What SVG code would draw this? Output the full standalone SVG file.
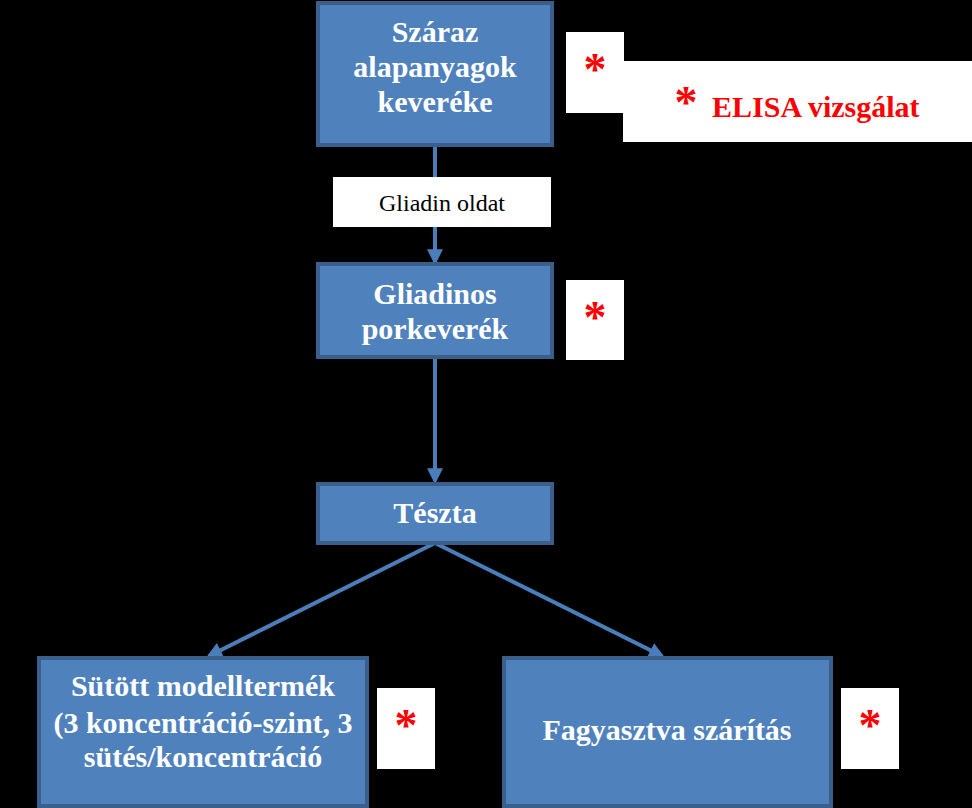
<svg xmlns="http://www.w3.org/2000/svg" width="972" height="808" viewBox="0 0 972 808">
<defs>
<style>
.node{fill:#4F81BD;stroke:#3A5F8B;stroke-width:4}
.nt{font-family:"Liberation Serif","Times New Roman",serif;font-weight:bold;font-size:30px;fill:#fff;text-anchor:middle}
.wb{fill:#fff}
.ast{font-family:"Liberation Serif","Times New Roman",serif;font-weight:bold;font-size:46px;fill:#f00;text-anchor:middle}
.conn{stroke:#4A7EBB;stroke-width:4;fill:none}
</style>
<marker id="ah" markerWidth="4" markerHeight="4" refX="3.2" refY="2" orient="auto" markerUnits="strokeWidth">
<path d="M0,0 L4,2 L0,4 Z" fill="#4A7EBB"/>
</marker>
</defs>
<rect width="972" height="808" fill="#000"/>
<g id="connectors">
<line class="conn" x1="435" y1="145" x2="435" y2="262" marker-end="url(#ah)"/>
<line class="conn" x1="435" y1="357" x2="435" y2="481" marker-end="url(#ah)"/>
<line class="conn" x1="435" y1="543" x2="209" y2="656" marker-end="url(#ah)"/>
<line class="conn" x1="435" y1="543" x2="662" y2="656" marker-end="url(#ah)"/>
</g>
<g id="label-gliadin-oldat">
<rect class="wb" x="333" y="177" width="218" height="50"/>
<text x="442" y="211" font-family="'Liberation Serif','Times New Roman',serif" font-size="24" fill="#000" text-anchor="middle">Gliadin oldat</text>
</g>
<g id="node-szaraz">
<rect class="node" x="318" y="3" width="234" height="142"/>
<text class="nt" x="435" y="42">Száraz</text>
<text class="nt" x="435" y="77">alapanyagok</text>
<text class="nt" x="435" y="112">keveréke</text>
</g>
<g id="legend">
<rect class="wb" x="566" y="32" width="58" height="81"/>
<rect class="wb" x="623" y="61" width="349" height="81"/>
<text class="ast" x="595" y="85">*</text>
<text class="ast" x="686" y="118">*</text>
<text x="712" y="117" font-family="'Liberation Serif','Times New Roman',serif" font-weight="bold" font-size="30" fill="#f00">ELISA vizsgálat</text>
</g>
<g id="node-gliadinos">
<rect class="node" x="318" y="264" width="234" height="93"/>
<text class="nt" x="435" y="304">Gliadinos</text>
<text class="nt" x="435" y="339">porkeverék</text>
</g>
<g id="mark-gliadinos">
<rect class="wb" x="566" y="280" width="58" height="80"/>
<text class="ast" x="595" y="333">*</text>
</g>
<g id="node-teszta">
<rect class="node" x="318" y="484" width="234" height="59"/>
<text class="nt" x="435" y="523">Tészta</text>
</g>
<g id="node-sutott">
<rect class="node" x="39" y="658" width="328" height="148"/>
<text class="nt" x="203" y="696">Sütött modelltermék</text>
<text class="nt" x="203" y="733">(3 koncentráció-szint, 3</text>
<text class="nt" x="203" y="767">sütés/koncentráció</text>
</g>
<g id="mark-sutott">
<rect class="wb" x="377" y="688" width="58" height="81"/>
<text class="ast" x="406" y="741">*</text>
</g>
<g id="node-fagyasztva">
<rect class="node" x="504" y="658" width="327" height="148"/>
<text class="nt" x="667" y="740">Fagyasztva szárítás</text>
</g>
<g id="mark-fagyasztva">
<rect class="wb" x="841" y="688" width="58" height="81"/>
<text class="ast" x="870" y="741">*</text>
</g>
</svg>
